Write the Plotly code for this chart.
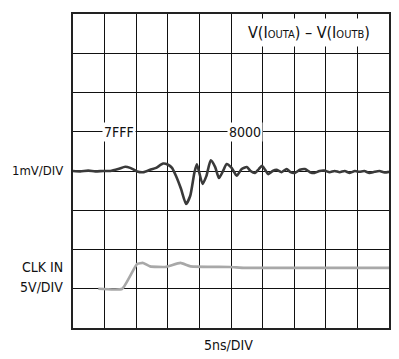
import plotly.graph_objects as go

# ---- data (time in ns, 5 ns/div; differential output in mV, 1 mV/div; clock in V, 5 V/div)
time_ns = [0.0, 1.15, 2.41, 3.52, 4.78, 5.9, 7.15, 8.26, 9.05, 10.15, 11.1, 12.2, 13.15,
           14.26, 15.04, 15.67, 16.3, 17.1, 17.9, 18.55, 19.2, 19.6, 20.5, 21.1, 21.8,
           22.5, 23.1, 23.8, 24.3, 25.1, 25.9, 26.7, 27.5, 28.1, 28.8, 29.4, 29.9, 30.4,
           30.9, 31.6, 32.2, 33.0, 33.8, 34.4, 35.1, 35.9, 36.7, 37.5, 38.2, 39.0, 39.8,
           40.6, 41.4, 42.2, 43.0, 43.8, 44.6, 45.3, 46.1, 46.9, 47.7, 48.5, 49.3, 50.0]
diff_mv = [0.0, -0.01, 0.01, -0.01, 0.0, 0.0, 0.05, 0.11, 0.08, -0.01, -0.03, 0.03, 0.08,
           0.19, 0.16, 0.08, -0.13, -0.46, -0.84, -0.63, -0.05, 0.17, -0.33, -0.13, 0.27,
           0.10, -0.18, 0.02, 0.18, 0.08, -0.12, 0.05, 0.10, 0.0, -0.05, 0.05, 0.13, 0.03,
           -0.08, 0.0, 0.03, -0.03, 0.05, -0.03, -0.05, 0.03, 0.05, -0.03, -0.05, 0.0, 0.01,
           -0.03, 0.0, -0.03, 0.0, -0.05, 0.0, -0.02, 0.0, -0.05, -0.02, 0.0, -0.04, -0.02]

clk_time_ns = [4.0, 7.8, 10.15, 11.1, 12.2, 14.6, 17.0, 18.6, 24.8, 27.2, 50.0]
clk_v = [0.0, 0.0, 3.16, 3.29, 2.85, 2.78, 3.29, 2.85, 2.78, 2.66, 2.66]

NS_PER_DIV = 5
MV_PER_DIV = 1
V_PER_DIV = 5
DIFF_OFFSET_DIV = 4
CLK_OFFSET_DIV = 1

x_main = [t / NS_PER_DIV for t in time_ns]
y_main = [v / MV_PER_DIV + DIFF_OFFSET_DIV for v in diff_mv]
x_clk = [t / NS_PER_DIV for t in clk_time_ns]
y_clk = [v / V_PER_DIV + CLK_OFFSET_DIV for v in clk_v]

FONT = "DejaVu Sans Condensed, Liberation Sans Narrow, Arial Narrow, Liberation Sans, sans-serif"

fig = go.Figure()
fig.add_trace(go.Scatter(x=x_clk, y=y_clk, mode="lines",
                         line=dict(color="#a8a8a8", width=2.6, shape="spline", smoothing=0.4),
                         hoverinfo="skip"))
fig.add_trace(go.Scatter(x=x_main, y=y_main, mode="lines",
                         line=dict(color="#3a3a3a", width=2.6, shape="spline", smoothing=0.6),
                         hoverinfo="skip"))

axis_common = dict(showgrid=True, gridcolor="#111111", gridwidth=1.2, zeroline=False,
                   showticklabels=False, ticks="", showline=True, linecolor="#222222",
                   linewidth=2, mirror=True, fixedrange=True)
fig.update_xaxes(range=[0, 10], dtick=1, tick0=0, **axis_common)
fig.update_yaxes(range=[0, 8], dtick=1, tick0=0, **axis_common)

small = '<span style="font-size:11px">'
title_txt = "V(I" + small + "OUTA</span>) – V(I" + small + "OUTB</span>)"
ann = [
    dict(x=7.46, y=7.54, xref="x", yref="y", text=title_txt, showarrow=False,
         bgcolor="white", borderpad=4, font=dict(size=16)),
    dict(x=1.47, y=5.0, xref="x", yref="y", text="7FFF", showarrow=False,
         bgcolor="white", borderpad=1, font=dict(size=14)),
    dict(x=5.44, y=5.0, xref="x", yref="y", text="8000", showarrow=False,
         bgcolor="white", borderpad=1, font=dict(size=14)),
    dict(x=-0.028, y=4.02, xref="paper", yref="y", text="1mV/DIV", showarrow=False,
         xanchor="right", yanchor="middle", borderpad=0, font=dict(size=13)),
    dict(x=-0.028, y=1.55, xref="paper", yref="y", text="CLK IN", showarrow=False,
         xanchor="right", yanchor="middle", borderpad=0, font=dict(size=14)),
    dict(x=-0.028, y=1.04, xref="paper", yref="y", text="5V/DIV", showarrow=False,
         xanchor="right", yanchor="middle", borderpad=0, font=dict(size=14)),
    dict(x=4.93, y=-0.054, xref="x", yref="paper", text="5ns/DIV", showarrow=False,
         xanchor="center", yanchor="middle", font=dict(size=14)),
]

# page body adds an 8px margin, so the figure is sized/offset to compensate
fig.update_layout(width=391, height=351, margin=dict(l=65, r=10, t=4, b=31),
                  paper_bgcolor="white", plot_bgcolor="white", showlegend=False,
                  font=dict(family=FONT, color="#111111"), annotations=ann)

fig.write_html("out.html")
